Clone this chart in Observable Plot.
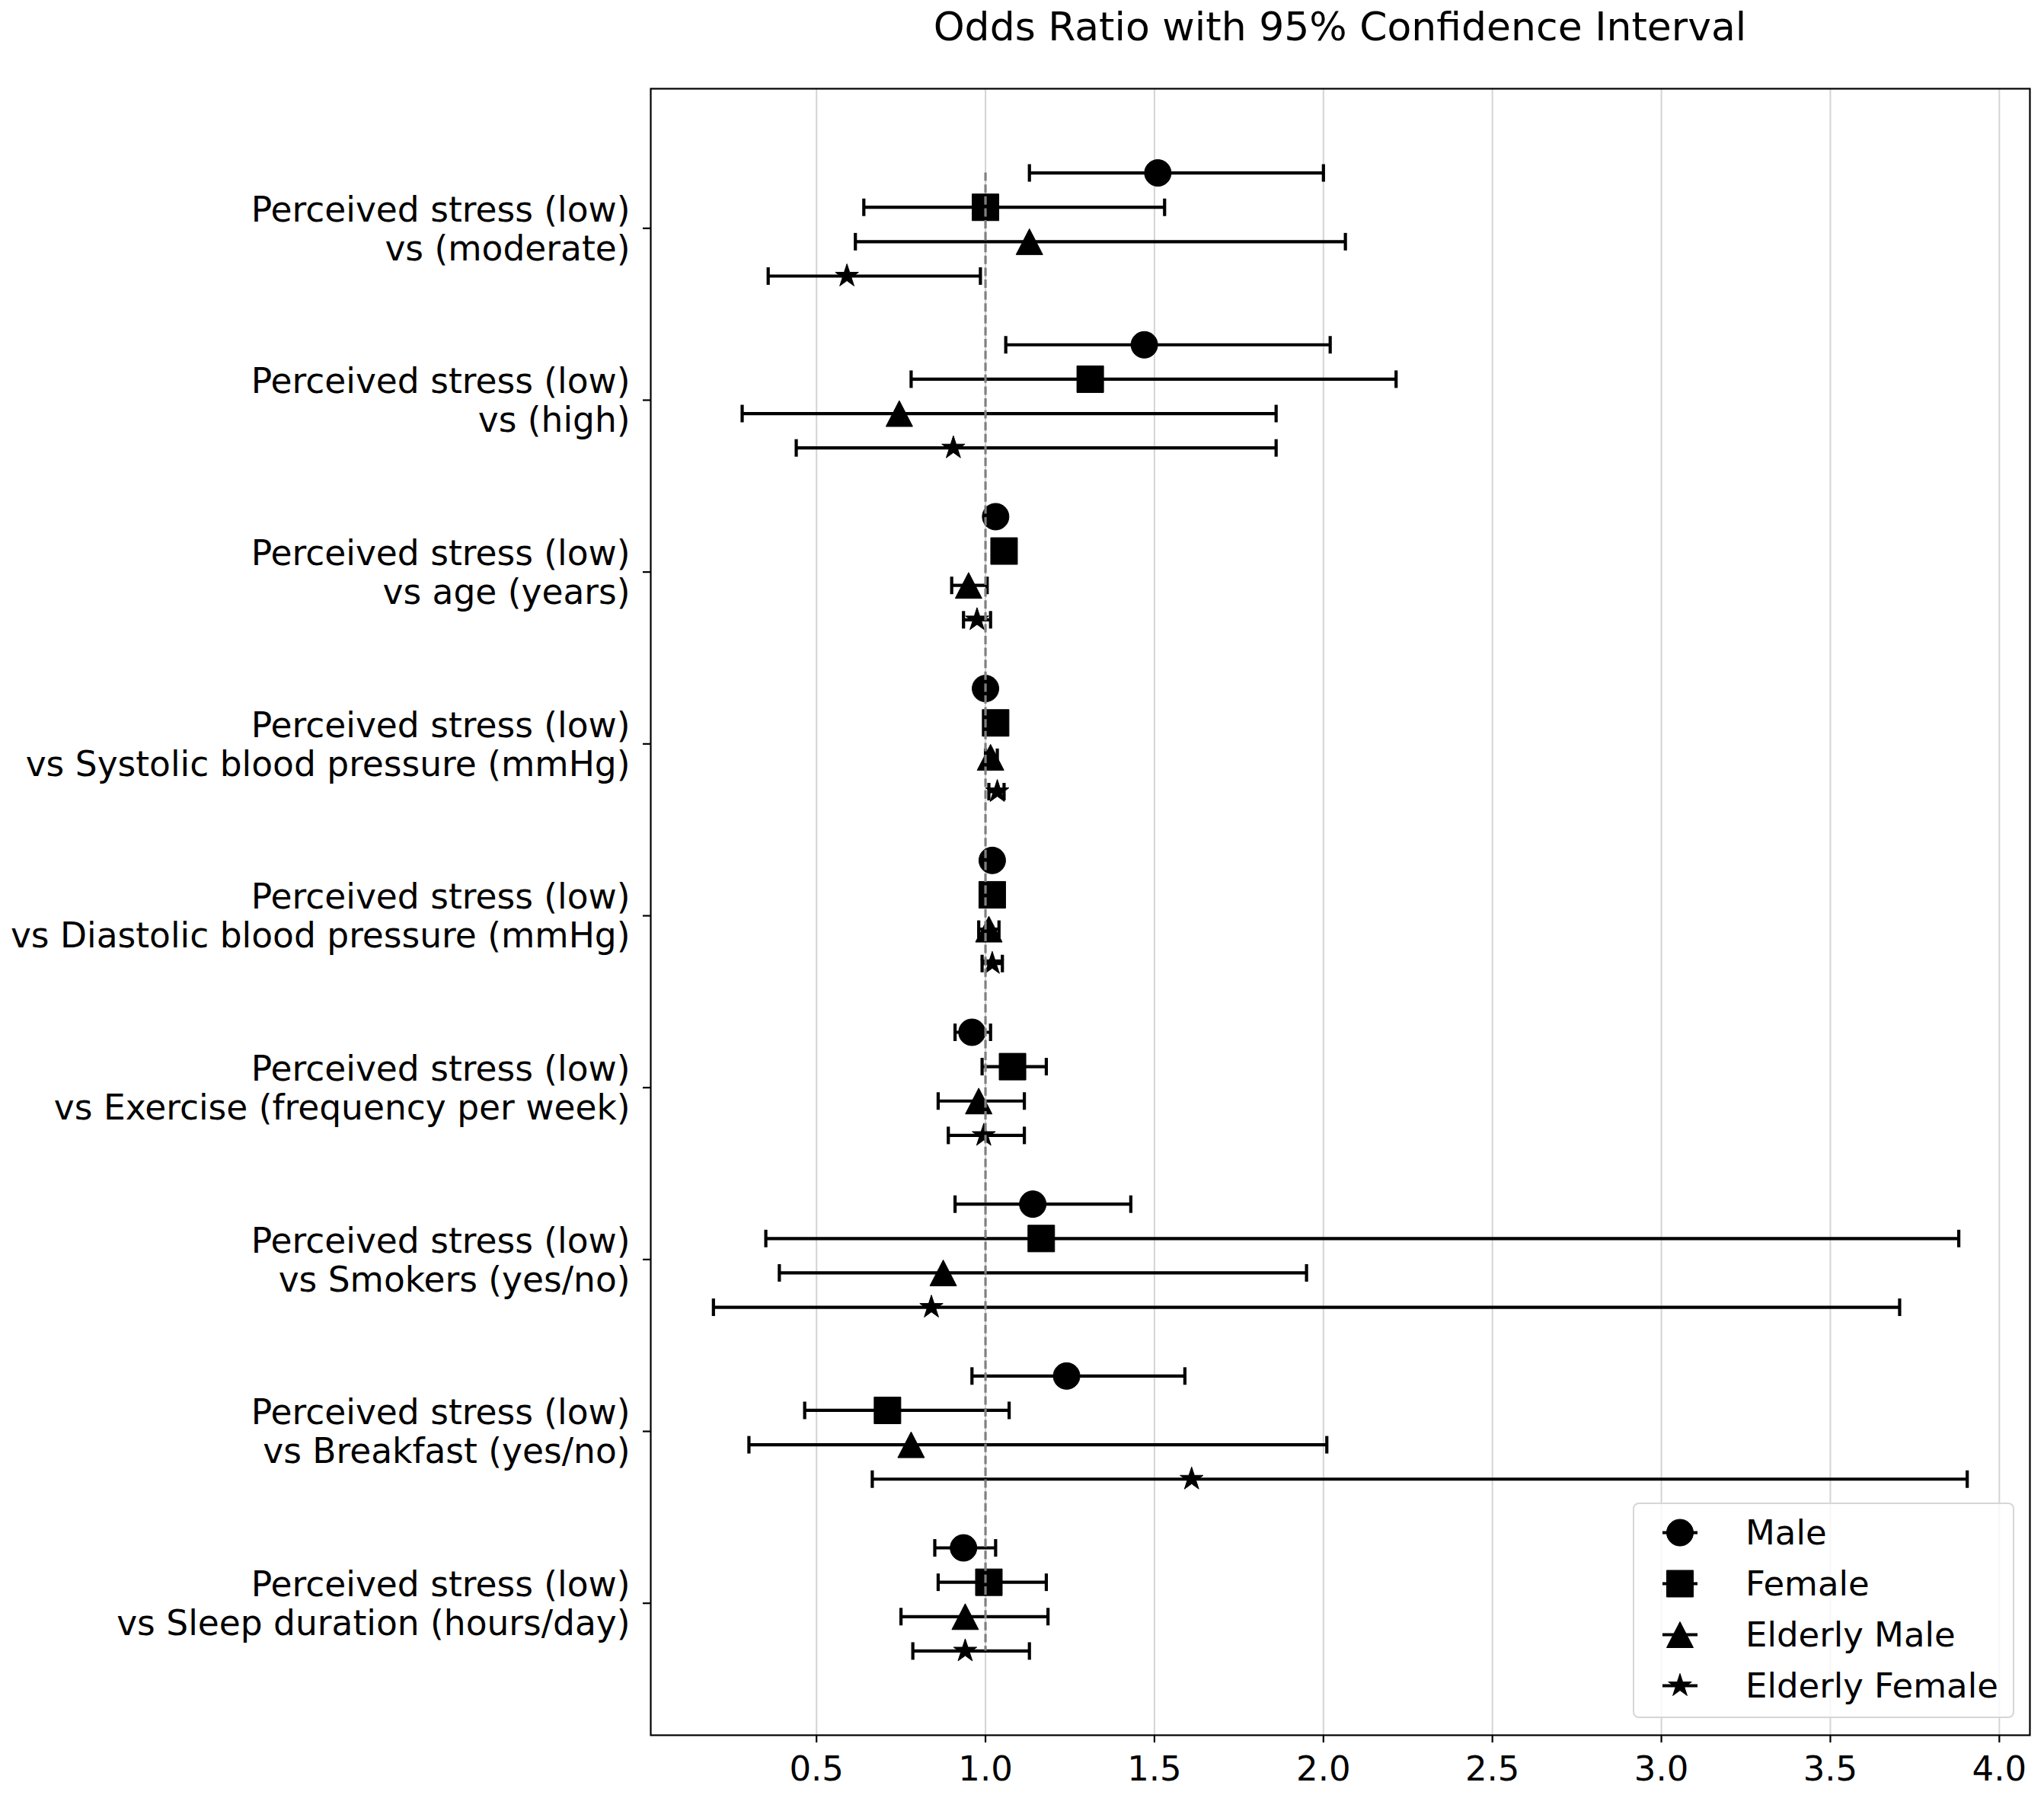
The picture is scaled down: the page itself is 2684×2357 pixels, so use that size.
<!DOCTYPE html>
<html>
<head>
<meta charset="utf-8">
<script src="https://cdn.jsdelivr.net/npm/d3@7"></script>
<script src="https://cdn.jsdelivr.net/npm/@observablehq/plot@0.6"></script>
<style>
  body { margin: 0; background: #fff; font-family: "DejaVu Sans", sans-serif; }
  #wrap { position: relative; width: 2684px; height: 2357px; background: #fff; }
  #title { position: absolute; left: 854px; width: 1811px; top: 9px; text-align: center;
           font-size: 52px; line-height: 1; color: #000; white-space: nowrap; }
  #chart { position: absolute; left: 0; top: 100px; }
  #legend { position: absolute; left: 2144px; top: 1973px; width: 501px; height: 283px;
            box-sizing: border-box; border: 2px solid rgba(204,204,204,0.8); border-radius: 8px;
            background: rgba(255,255,255,0.8); padding-top: 4px; }
  .row { height: 67px; display: flex; align-items: center; font-size: 45px; color: #000; white-space: nowrap; }
  .row svg { flex: none; }
</style>
</head>
<body>
<div id="wrap">
  <div id="title">Odds Ratio with 95% Confidence Interval</div>
  <div id="chart"></div>
  <div id="legend"></div>
</div>
<script>
// ---------------- data ----------------
const categories = [
  "Perceived stress (low)\nvs (moderate)",
  "Perceived stress (low)\nvs (high)",
  "Perceived stress (low)\nvs age (years)",
  "Perceived stress (low)\nvs Systolic blood pressure (mmHg)",
  "Perceived stress (low)\nvs Diastolic blood pressure (mmHg)",
  "Perceived stress (low)\nvs Exercise (frequency per week)",
  "Perceived stress (low)\nvs Smokers (yes/no)",
  "Perceived stress (low)\nvs Breakfast (yes/no)",
  "Perceived stress (low)\nvs Sleep duration (hours/day)"
];
const seriesNames = ["Male", "Female", "Elderly Male", "Elderly Female"];

const maleOR   = [1.51, 1.47, 1.03, 1.00, 1.02, 0.96, 1.14, 1.24, 0.935];
const maleLow  = [1.13, 1.06, 1.01, 0.99, 1.00, 0.91, 0.91, 0.96, 0.85];
const maleHigh = [2.00, 2.02, 1.045, 1.01, 1.04, 1.015, 1.43, 1.59, 1.03];

const femaleOR   = [1.00, 1.31, 1.055, 1.03, 1.02, 1.08, 1.165, 0.71, 1.01];
const femaleLow  = [0.64, 0.78, 1.03, 1.01, 1.00, 0.99, 0.35, 0.465, 0.86];
const femaleHigh = [1.53, 2.215, 1.08, 1.05, 1.045, 1.18, 3.88, 1.07, 1.18];

const elderlyMaleOR   = [1.13, 0.745, 0.95, 1.015, 1.01, 0.98, 0.875, 0.78, 0.94];
const elderlyMaleLow  = [0.615, 0.28, 0.90, 1.00, 0.98, 0.86, 0.39, 0.30, 0.75];
const elderlyMaleHigh = [2.065, 1.86, 1.005, 1.035, 1.04, 1.115, 1.95, 2.01, 1.185];

const elderlyFemaleOR   = [0.59, 0.905, 0.975, 1.035, 1.02, 0.995, 0.84, 1.61, 0.94];
const elderlyFemaleLow  = [0.357, 0.44, 0.935, 1.01, 0.99, 0.89, 0.195, 0.665, 0.785];
const elderlyFemaleHigh = [0.985, 1.86, 1.015, 1.055, 1.05, 1.115, 3.705, 3.905, 1.13];

const xTicks = [0.5, 1.0, 1.5, 2.0, 2.5, 3.0, 3.5, 4.0];
const referenceOR = 1;

// ---------------- build table ----------------
const seriesValues = [
  [maleOR, maleLow, maleHigh],
  [femaleOR, femaleLow, femaleHigh],
  [elderlyMaleOR, elderlyMaleLow, elderlyMaleHigh],
  [elderlyFemaleOR, elderlyFemaleLow, elderlyFemaleHigh]
];
const dodge = [-0.3, -0.1, 0.1, 0.3];
const rows = [];
seriesValues.forEach(([or, lo, hi], si) => {
  categories.forEach((c, gi) => {
    rows.push({series: seriesNames[si], si, gi, or: or[gi], lo: lo[gi], hi: hi[gi], pos: gi + dodge[si]});
  });
});

// ---------------- symbols ----------------
const rad = (size) => Math.sqrt(size / Math.PI);
const symCircle = {draw(ctx, size) { const r = rad(size); ctx.moveTo(r, 0); ctx.arc(0, 0, r, 0, 2 * Math.PI); ctx.closePath(); }};
const symSquare = {draw(ctx, size) { const r = rad(size); ctx.moveTo(-r, -r); ctx.lineTo(r, -r); ctx.lineTo(r, r); ctx.lineTo(-r, r); ctx.closePath(); }};
const symTriangle = {draw(ctx, size) { const r = rad(size); ctx.moveTo(0, -r * 0.97); ctx.lineTo(r, r * 0.97); ctx.lineTo(-r, r * 0.97); ctx.closePath(); }};
const symStar = {draw(ctx, size) {
  const R = rad(size), ri = R * 0.381966;
  for (let k = 0; k < 10; k++) {
    const a = -Math.PI / 2 + k * Math.PI / 5;
    const rr = k % 2 === 0 ? R : ri;
    const px = rr * Math.cos(a), py = rr * Math.sin(a);
    if (k === 0) ctx.moveTo(px, py); else ctx.lineTo(px, py);
  }
  ctx.closePath();
}};
const symCap = {draw(ctx, size) { const r = rad(size); ctx.moveTo(0, -r); ctx.lineTo(0, r); }};
const seriesSymbols = [symCircle, symSquare, symTriangle, symStar];
const seriesR = [17.5, 17.5, 17.5, 16];

// ---------------- scales ----------------
const allLo = d3.min(rows, d => d.lo), allHi = d3.max(rows, d => d.hi);
const pad = 0.05 * (allHi - allLo);
const xDomain = [allLo - pad, allHi + pad];

const marks = [
  Plot.gridX(xTicks, {stroke: "#b0b0b0", strokeOpacity: 0.55, strokeWidth: 2}),
  Plot.axisX({ticks: xTicks, tickFormat: d3.format(".1f"), tickSize: 10, tickPadding: 18,
              strokeWidth: 2.2, label: null, fontSize: 45}),
  Plot.axisY({ticks: d3.range(categories.length), tickFormat: i => categories[i], tickSize: 10,
              tickPadding: 17, strokeWidth: 2.2, label: null, fontSize: 45.5, lineHeight: 1.12, dy: 5})
];
seriesNames.forEach((name, si) => {
  const data = rows.filter(d => d.si === si);
  marks.push(
    Plot.ruleY(data, {y: "pos", x1: "lo", x2: "hi", stroke: "black", strokeWidth: 4.2}),
    Plot.dot(data, {x: "lo", y: "pos", symbol: symCap, r: 11.5, stroke: "black", strokeWidth: 4.2, fill: "none"}),
    Plot.dot(data, {x: "hi", y: "pos", symbol: symCap, r: 11.5, stroke: "black", strokeWidth: 4.2, fill: "none"}),
    Plot.dot(data, {x: "or", y: "pos", symbol: seriesSymbols[si], r: seriesR[si], fill: "black", stroke: "black", strokeWidth: 1})
  );
});
marks.push(
  Plot.ruleX([referenceOR], {x: d => d, y1: d3.min(rows, d => d.pos), y2: d3.max(rows, d => d.pos),
    stroke: "#808080", strokeWidth: 3.2, strokeDasharray: "11,4.6"}),
  Plot.frame({stroke: "black", strokeWidth: 2.2})
);

const chart = Plot.plot({
  width: 2684,
  height: 2257,
  marginLeft: 854,
  marginRight: 19,
  marginTop: 16,
  marginBottom: 79,
  style: {fontFamily: "'DejaVu Sans', sans-serif", fontSize: "45px", color: "black", background: "white", overflow: "visible"},
  x: {domain: xDomain, label: null},
  y: {domain: [-0.79, 8.79], reverse: true, label: null},
  marks
});
document.getElementById("chart").appendChild(chart);

// ---------------- legend ----------------
const legend = document.getElementById("legend");
seriesNames.forEach((name, si) => {
  const row = document.createElement("div");
  row.className = "row";
  const svg = d3.create("svg").attr("width", 146).attr("height", 67);
  svg.append("line").attr("x1", 37).attr("x2", 83).attr("y1", 33.5).attr("y2", 33.5)
     .attr("stroke", "black").attr("stroke-width", 4.2);
  const p = d3.path();
  const r = seriesR[si];
  seriesSymbols[si].draw(p, r * r * Math.PI);
  svg.append("path").attr("d", p.toString()).attr("transform", "translate(60,33.5)")
     .attr("fill", "black").attr("stroke", "black").attr("stroke-width", 1);
  row.appendChild(svg.node());
  const span = document.createElement("span");
  span.textContent = name;
  row.appendChild(span);
  legend.appendChild(row);
});
</script>
</body>
</html>
